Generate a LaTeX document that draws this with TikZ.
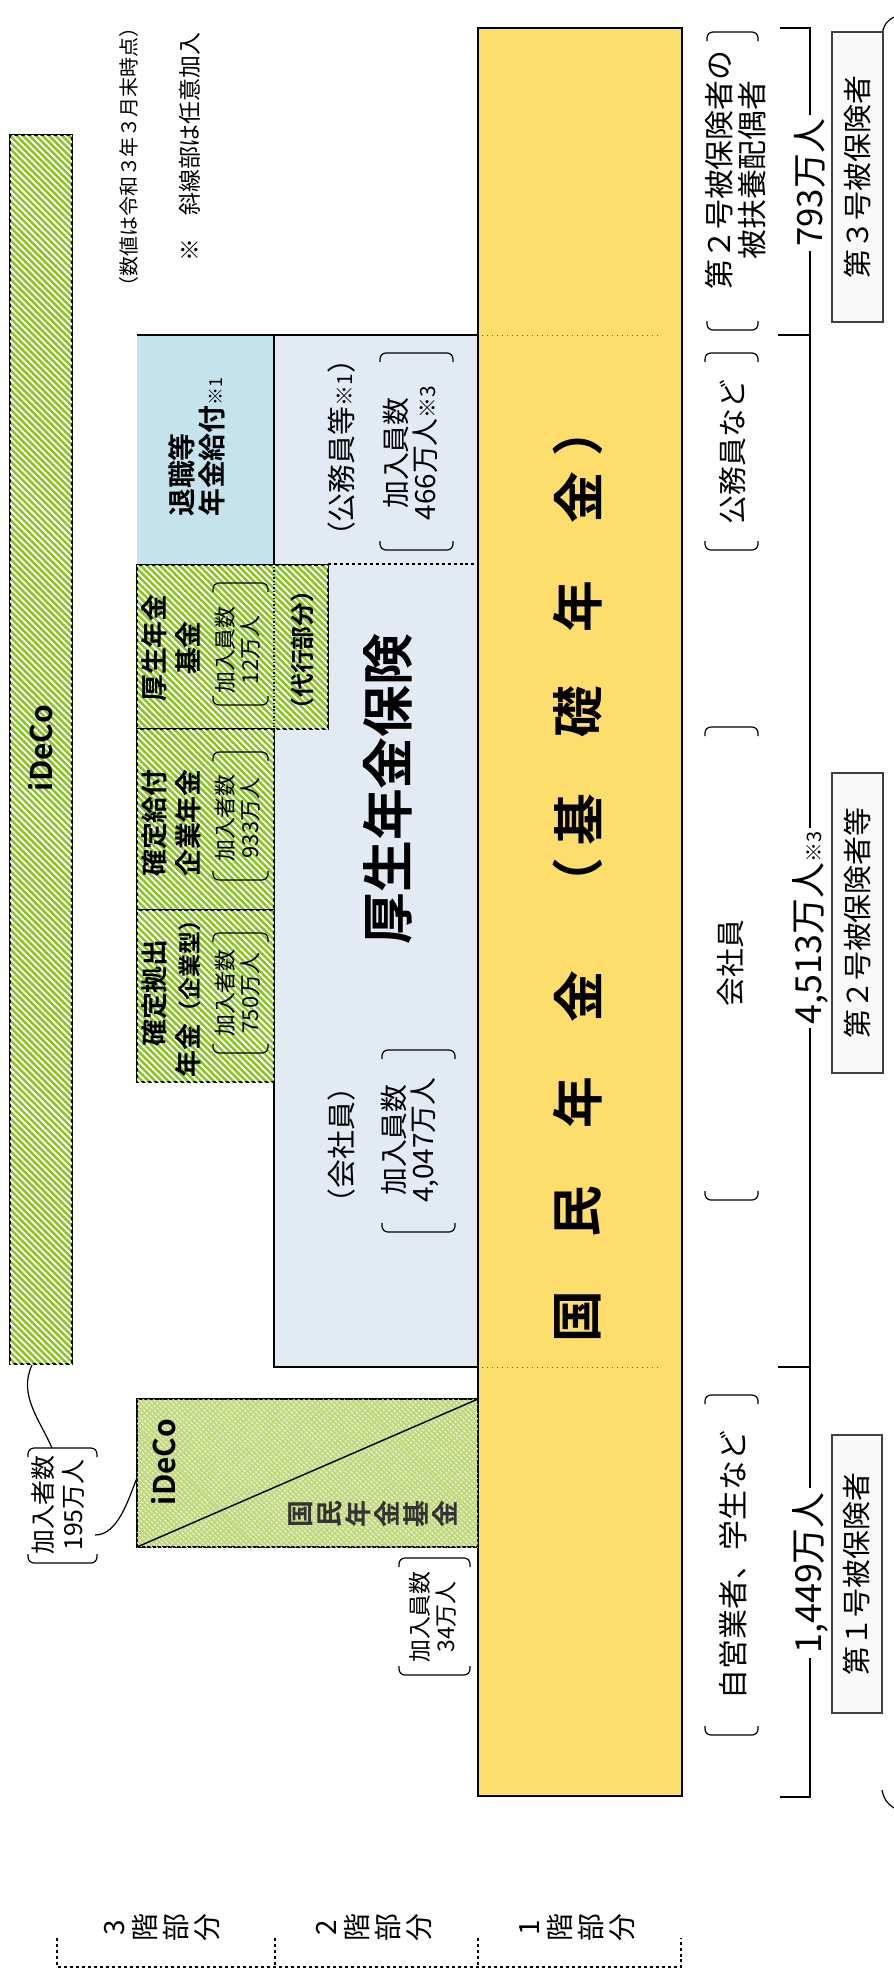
\documentclass[tikz,border=0pt]{standalone}
\usepackage{fontspec}
\setmainfont{Noto Sans CJK JP}[BoldFont={Noto Sans CJK JP Bold}]
\usetikzlibrary{patterns.meta}

\definecolor{kisoyellow}{RGB}{253,222,108}
\definecolor{koseiblue}{RGB}{226,234,244}
\definecolor{taishokublue}{RGB}{196,227,237}
\definecolor{hatchgreen}{RGB}{140,196,40}
\definecolor{palegreen}{RGB}{192,216,124}

\tikzset{
  vtext/.style={rotate=90, inner sep=0pt, align=center},
  greenhatch/.style={fill=hatchgreen,
    postaction={pattern={Lines[angle=-45,distance=4.6bp,line width=1.8bp]}, pattern color=white}},
  palehatch/.style={fill=palegreen,
    postaction={pattern={Lines[angle=-45,distance=3.6bp,line width=1.3bp]}, pattern color=white!70!palegreen}},
  kakko/.style={line width=1.2bp, rounded corners=6bp},
  rangeline/.style={line width=1.6bp},
  kubunbox/.style={rotate=90, draw=black!75, line width=2.8bp, fill=gray!5, inner sep=0pt,
    font=\fontsize{29}{32}\selectfont}
}

\begin{document}
\begin{tikzpicture}[x=1bp,y=-1bp]
  \path[use as bounding box] (0,0) rectangle (894,1970);
  \fill[white] (0,0) rectangle (894,1970);

  % 3rd floor: iDeCo
  \draw[greenhatch, line width=2.4bp] (10,135) rectangle (72,1364);

  % 2nd floor: kosei nenkin
  \fill[koseiblue] (274,335) rectangle (478,1367);
  \fill[taishokublue] (137,335) rectangle (274,564);
  \draw[line width=1.4bp] (137,335) -- (478,335);
  \draw[line width=1.4bp] (274,335) -- (274,565);
  \draw[line width=1.4bp] (274,729) -- (274,1367) -- (478,1367);
  \draw[dashed, line width=1.4bp] (328,564) -- (478,564);

  \draw[greenhatch, line width=2.4bp] (137,565) rectangle (328,729);
  \draw[dotted, line width=1.4bp] (274,567) -- (274,727);
  \draw[greenhatch, line width=2.4bp] (137,729) rectangle (274,910);
  \draw[greenhatch, line width=2.4bp] (137,910) rectangle (274,1082);

  % 1st floor: kiso nenkin
  \draw[fill=kisoyellow, line width=1.4bp] (478,28) rectangle (682,1796);
  \draw[line width=1bp, black!60, dash pattern=on 1bp off 4bp] (482,335) -- (660,335);
  \draw[line width=1bp, black!60, dash pattern=on 1bp off 4bp] (482,1367) -- (660,1367);

  \draw[palehatch, line width=2bp] (137,1399) rectangle (478,1547);
  \draw[line width=1.4bp] (137,1547) -- (478,1399);

  % ranges on the right
  \draw[rangeline] (780,28) -- (810,28) -- (810,1797) -- (780,1797);
  \draw[rangeline] (778,335) -- (810,335);
  \draw[rangeline] (778,1367) -- (810,1367);
  \draw[line width=1.2bp] (882,34) .. controls (884,24) and (888,20) .. (894,17);
  \draw[line width=1.2bp] (882,1790) .. controls (884,1800) and (888,1804) .. (894,1808);

  % brackets
  \foreach \xa/\xb/\ya/\yb in {707/758/32/330, 705/758/353/550, 705/758/727/1200,
      705/758/1395/1735, 380/453/353/550, 382/455/1050/1232, 213/268/583/705,
      213/268/752/880, 213/268/933/1053, 399/470/1558/1675, 28/97/1448/1563}{
    \draw[kakko] (\xa,\ya+9) -- (\xa,\ya) -- (\xb,\ya) -- (\xb,\ya+9);
    \draw[kakko] (\xa,\yb-9) -- (\xa,\yb) -- (\xb,\yb) -- (\xb,\yb-9);
  }

  % texts
  \node[vtext, font=\fontsize{20}{22}\selectfont] (jiten) at (129,157) {（数値は令和３年３月末時点）};
  \node[vtext, font=\fontsize{23}{25}\selectfont] (shasen) at (190,147) {※　斜線部は任意加入};

  \node[vtext, font=\fontsize{30}{34}\selectfont\bfseries] (ideco) at (41,748) {iDeCo};
  \node[vtext, font=\fontsize{30}{34}\selectfont\bfseries] (ideco2) at (164,1462) {iDeCo};
  \node[vtext, font=\fontsize{27}{29}\selectfont\bfseries, text=black!80] (kokumin kikin) at (373,1514)
    {国\\民\\年\\金\\基\\金};

  \node[vtext, anchor=west, align=left, font=\fontsize{28}{30}\selectfont\bfseries] (taishoku)
    at (197,517) {退職等\\年金給付{\mdseries\fontsize{18}{20}\selectfont ※1}};
  \node[vtext, font=\fontsize{29}{30}\selectfont] (komuin) at (342,448)
    {（公務員等{\fontsize{21}{22}\selectfont ※1}）};
  \node[vtext, font=\fontsize{28}{29}\selectfont] (kanyu466) at (410,453)
    {加入員数\\466万人{\fontsize{21}{22}\selectfont ※3}};
  \node[vtext, font=\fontsize{29}{30}\selectfont] (kaishain) at (342,1145) {（会社員）};
  \node[vtext, font=\fontsize{28}{29}\selectfont] (kanyu4047) at (410,1140) {加入員数\\4,047万人};
  \node[vtext, font=\fontsize{52}{56}\selectfont\bfseries] (kosei) at (388,789) {厚生年金保険};

  \node[vtext, font=\fontsize{27}{34}\selectfont\bfseries] (kikin) at (171,648) {厚生年金\\基金};
  \node[vtext, font=\fontsize{22}{25}\selectfont] (kanyu12) at (238,650) {加入員数\\12万人};
  \node[vtext, font=\fontsize{24}{26}\selectfont\bfseries] (daiko) at (302,650) {（代行部分）};
  \node[vtext, font=\fontsize{27}{34}\selectfont\bfseries] (db) at (171,823) {確定給付\\企業年金};
  \node[vtext, font=\fontsize{22}{25}\selectfont] (kanyu933) at (238,818) {加入者数\\933万人};
  \node[vtext, font=\fontsize{27}{34}\selectfont\bfseries] (dc) at (171,993)
    {確定拠出\\年金{\fontsize{23}{25}\selectfont（企業型）}};
  \node[vtext, font=\fontsize{22}{25}\selectfont] (kanyu750) at (238,993) {加入者数\\750万人};

  \node[vtext, font=\fontsize{25}{30}\selectfont] (kanyu195) at (58,1505) {加入者数\\195万人};
  \node[vtext, font=\fontsize{23}{26}\selectfont] (kanyu34) at (433,1617) {加入員数\\34万人};

  \foreach \ch/\yy [count=\i] in {国/1317, 民/1212, 年/1103, 金/997, （/884,
      基/820, 礎/712, 年/607, 金/498, ）/431}
    \node[vtext, font=\fontsize{52}{56}\selectfont\bfseries] (kiso\i) at (578,\yy) {\ch};

  \node[vtext, font=\fontsize{30}{33}\selectfont] (fuyo) at (736,170) {第２号被保険者の\\被扶養配偶者};
  \node[vtext, font=\fontsize{29}{32}\selectfont] (komuinra) at (733,452) {公務員など};
  \node[vtext, font=\fontsize{29}{32}\selectfont] (kaisha) at (731,963) {会社員};
  \node[vtext, font=\fontsize{30}{32}\selectfont] (jiei) at (733,1565) {自営業者、学生など};

  \node[vtext, fill=white, inner sep=4bp, font=\fontsize{35}{38}\selectfont] (n793) at (810,183) {793万人};
  \node[vtext, fill=white, inner sep=4bp, font=\fontsize{36}{38}\selectfont] (n4513) at (810,928)
    {4,513万人{\fontsize{20}{22}\selectfont ※3}};
  \node[vtext, fill=white, inner sep=4bp, font=\fontsize{36}{38}\selectfont] (n1449) at (810,1573) {1,449万人};

  \node[kubunbox, minimum width=290bp, minimum height=51bp] (dai3) at (857.5,177) {第３号被保険者};
  \node[kubunbox, minimum width=300bp, minimum height=51bp] (dai2) at (857.5,923) {第２号被保険者等};
  \node[kubunbox, minimum width=278bp, minimum height=50bp] (dai1) at (857,1574) {第１号被保険者};

  % callout of iDeCo
  \coordinate (barfoot) at (32,1365);
  \coordinate (kakko195) at (52,1448);
  \coordinate (kakko195r) at (95,1535);
  \coordinate (sankaku) at (137,1478);
  \draw[line width=1.2bp] (barfoot) .. controls (18,1395) and (40,1420) .. (kakko195);
  \draw[line width=1.2bp] (kakko195r) .. controls (118,1535) and (128,1500) .. (sankaku);

  % floors
  \draw[dashed, line width=1.3bp] (57,1938) -- (57,1967) -- (681,1967) -- (681,1938);
  \draw[dashed, line width=1.3bp] (275,1938) -- (275,1967);
  \draw[dashed, line width=1.3bp] (478,1938) -- (478,1967);
  \node[vtext, font=\fontsize{28}{31}\selectfont] (kai3) at (162,1928) {3\\階\\部\\分};
  \node[vtext, font=\fontsize{28}{31}\selectfont] (kai2) at (374,1928) {2\\階\\部\\分};
  \node[vtext, font=\fontsize{28}{31}\selectfont] (kai1) at (577,1928) {1\\階\\部\\分};
\end{tikzpicture}
\end{document}
